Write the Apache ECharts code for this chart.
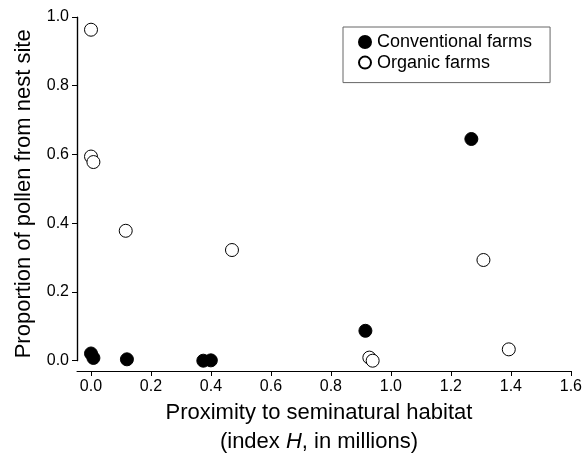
<!DOCTYPE html>
<html>
<head>
<meta charset="utf-8">
<script src="https://cdn.jsdelivr.net/npm/echarts@6/dist/echarts.min.js"></script>
<style>
  html, body { margin: 0; padding: 0; background: #fff; }
  #main { width: 585px; height: 459px; }
</style>
</head>
<body>
<div id="main"></div>
<script>
// data
var conventionalX = [0.000, 0.008, 0.119, 0.372, 0.397, 0.909, 1.260];
var conventionalY = [0.021, 0.008, 0.004, 0.000, 0.001, 0.087, 0.645];
var organicX = [0.000, 0.000, 0.008, 0.115, 0.467, 0.922, 0.933, 1.300, 1.384];
var organicY = [0.963, 0.594, 0.578, 0.378, 0.322, 0.009, 0.000, 0.293, 0.033];
var xTicks = [0, 0.2, 0.4, 0.6, 0.8, 1.0, 1.2, 1.4, 1.6];
var yTicks = [0, 0.2, 0.4, 0.6, 0.8, 1.0];
var xMin = -0.0464;   // x axis starts a bit left of 0

function pairs(xs, ys) {
  return xs.map(function (x, i) { return [x, ys[i]]; });
}

var font = 'Liberation Sans, Arial, Helvetica, sans-serif';
var chart = echarts.init(document.getElementById('main'));

var option = {
  backgroundColor: '#fff',
  animation: false,
  textStyle: { fontFamily: font, color: '#000' },
  grid: [
    // data grid: y runs 0..1, so its axis line stops at 0.0
    { left: 77, right: 11, top: 17, bottom: 98.3 },
    // x axis grid, its line sits a little below 0.0
    { left: 77, right: 11, top: 17, bottom: 88 }
  ],
  legend: {
    orient: 'vertical',
    left: 343,
    top: 27,
    padding: [6, 18, 11, 15],
    itemGap: 2.6,
    itemWidth: 12,
    itemHeight: 12,
    borderColor: '#666',
    borderWidth: 1,
    textStyle: { fontFamily: font, fontSize: 18, color: '#000', padding: [0, 0, 0, 1] },
    data: ['Conventional farms', 'Organic farms']
  },
  xAxis: [
    { gridIndex: 0, type: 'value', min: xMin, max: 1.6, show: false },
    {
      gridIndex: 1,
      type: 'value',
      min: xMin,
      max: 1.6,
      splitLine: { show: false },
      axisLine: { show: true, onZero: false, lineStyle: { color: '#000', width: 1 } },
      axisTick: { show: true, length: 5, customValues: xTicks, lineStyle: { color: '#000' } },
      axisLabel: {
        customValues: xTicks,
        margin: 8,
        fontSize: 16,
        color: '#000',
        fontFamily: font,
        formatter: function (v) { return v.toFixed(1); }
      },
      name: '{a|Proximity to seminatural habitat}\n{a|(index }{i|H}{a|, in millions)}',
      nameLocation: 'middle',
      nameGap: 27,
      nameTextStyle: {
        padding: [0, 10, 0, 0],
        rich: {
          a: { fontSize: 22, fontFamily: font, color: '#000', lineHeight: 29 },
          i: { fontSize: 22, fontFamily: font, color: '#000', lineHeight: 29, fontStyle: 'italic' }
        }
      }
    }
  ],
  yAxis: [
    {
      gridIndex: 0,
      type: 'value',
      z: 10,
      min: 0,
      max: 1.0,
      splitLine: { show: false },
      axisLine: { show: true, onZero: false, lineStyle: { color: '#000', width: 1.2 } },
      axisTick: { show: true, length: 5, customValues: yTicks, lineStyle: { color: '#000' } },
      axisLabel: {
        customValues: yTicks,
        margin: 8,
        fontSize: 16,
        color: '#000',
        fontFamily: font,
        formatter: function (v) { return v.toFixed(1); }
      },
      name: 'Proportion of pollen from nest site',
      nameLocation: 'middle',
      nameGap: 42,
      nameTextStyle: { fontSize: 22, fontFamily: font, color: '#000', padding: [0, 0, 0, -10] }
    },
    { gridIndex: 1, type: 'value', min: -0.03, max: 1.0, show: false }
  ],
  series: [
    {
      name: 'Conventional farms',
      type: 'scatter',
      xAxisIndex: 0,
      yAxisIndex: 0,
      clip: false,
      symbol: 'circle',
      symbolSize: 13,
      itemStyle: { color: '#000', borderColor: '#000', borderWidth: 1, opacity: 1 },
      data: pairs(conventionalX, conventionalY),
      // y axis line through the axis scale, from 0.0 to 1.0
      markLine: {
        silent: true,
        z: 20,
        symbol: ['none', 'none'],
        label: { show: false },
        lineStyle: { color: '#000', width: 1.2, type: 'solid', opacity: 1 },
        data: [[{ coord: [xMin, yTicks[0]] }, { coord: [xMin, yTicks[yTicks.length - 1]] }]]
      }
    },
    {
      name: 'Organic farms',
      type: 'scatter',
      xAxisIndex: 0,
      yAxisIndex: 0,
      clip: false,
      symbol: 'circle',
      symbolSize: 13,
      itemStyle: { color: '#fff', borderColor: '#000', borderWidth: 1, opacity: 1 },
      data: pairs(organicX, organicY)
    }
  ]
};

chart.setOption(option);
</script>
</body>
</html>
